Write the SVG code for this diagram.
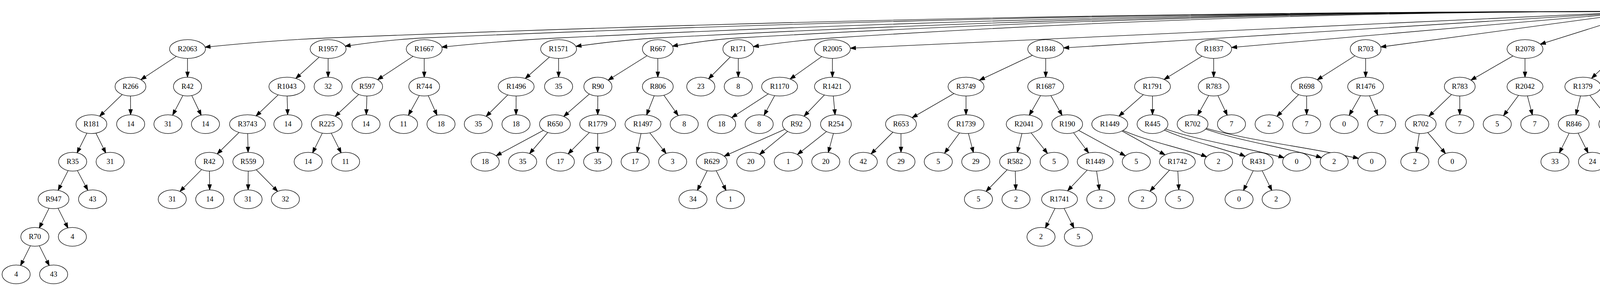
<svg xmlns="http://www.w3.org/2000/svg" width="7321" height="731" viewBox="0 0 7321 731">
<style>
.edges path{fill:none;stroke:#000;stroke-width:1.33}
.ah{fill:#000;stroke:#000;stroke-width:1.33}
.node ellipse{fill:#fff;stroke:#000;stroke-width:1.33}
.node text{font-family:"Liberation Serif","Times New Roman",serif;font-size:18.67px;text-anchor:middle;fill:#000}
</style>
<defs>
<marker id="m24" markerUnits="userSpaceOnUse" markerWidth="14" markerHeight="10" refX="37.33" refY="4.67" orient="auto" overflow="visible"><path class="ah" d="M0,0L13.33,4.67L0,9.33z"/></marker>
<marker id="m25" markerUnits="userSpaceOnUse" markerWidth="14" markerHeight="10" refX="38.33" refY="4.67" orient="auto" overflow="visible"><path class="ah" d="M0,0L13.33,4.67L0,9.33z"/></marker>
<marker id="m26" markerUnits="userSpaceOnUse" markerWidth="14" markerHeight="10" refX="39.33" refY="4.67" orient="auto" overflow="visible"><path class="ah" d="M0,0L13.33,4.67L0,9.33z"/></marker>
<marker id="m27" markerUnits="userSpaceOnUse" markerWidth="14" markerHeight="10" refX="40.33" refY="4.67" orient="auto" overflow="visible"><path class="ah" d="M0,0L13.33,4.67L0,9.33z"/></marker>
<marker id="m28" markerUnits="userSpaceOnUse" markerWidth="14" markerHeight="10" refX="41.33" refY="4.67" orient="auto" overflow="visible"><path class="ah" d="M0,0L13.33,4.67L0,9.33z"/></marker>
<marker id="m29" markerUnits="userSpaceOnUse" markerWidth="14" markerHeight="10" refX="42.33" refY="4.67" orient="auto" overflow="visible"><path class="ah" d="M0,0L13.33,4.67L0,9.33z"/></marker>
<marker id="m30" markerUnits="userSpaceOnUse" markerWidth="14" markerHeight="10" refX="43.33" refY="4.67" orient="auto" overflow="visible"><path class="ah" d="M0,0L13.33,4.67L0,9.33z"/></marker>
<marker id="m31" markerUnits="userSpaceOnUse" markerWidth="14" markerHeight="10" refX="44.33" refY="4.67" orient="auto" overflow="visible"><path class="ah" d="M0,0L13.33,4.67L0,9.33z"/></marker>
<marker id="m32" markerUnits="userSpaceOnUse" markerWidth="14" markerHeight="10" refX="45.33" refY="4.67" orient="auto" overflow="visible"><path class="ah" d="M0,0L13.33,4.67L0,9.33z"/></marker>
<marker id="m33" markerUnits="userSpaceOnUse" markerWidth="14" markerHeight="10" refX="46.33" refY="4.67" orient="auto" overflow="visible"><path class="ah" d="M0,0L13.33,4.67L0,9.33z"/></marker>
<marker id="m34" markerUnits="userSpaceOnUse" markerWidth="14" markerHeight="10" refX="47.33" refY="4.67" orient="auto" overflow="visible"><path class="ah" d="M0,0L13.33,4.67L0,9.33z"/></marker>
<marker id="m35" markerUnits="userSpaceOnUse" markerWidth="14" markerHeight="10" refX="48.33" refY="4.67" orient="auto" overflow="visible"><path class="ah" d="M0,0L13.33,4.67L0,9.33z"/></marker>
<marker id="m36" markerUnits="userSpaceOnUse" markerWidth="14" markerHeight="10" refX="49.33" refY="4.67" orient="auto" overflow="visible"><path class="ah" d="M0,0L13.33,4.67L0,9.33z"/></marker>
<marker id="m38" markerUnits="userSpaceOnUse" markerWidth="14" markerHeight="10" refX="51.33" refY="4.67" orient="auto" overflow="visible"><path class="ah" d="M0,0L13.33,4.67L0,9.33z"/></marker>
<marker id="m39" markerUnits="userSpaceOnUse" markerWidth="14" markerHeight="10" refX="52.33" refY="4.67" orient="auto" overflow="visible"><path class="ah" d="M0,0L13.33,4.67L0,9.33z"/></marker>
<marker id="m41" markerUnits="userSpaceOnUse" markerWidth="14" markerHeight="10" refX="54.33" refY="4.67" orient="auto" overflow="visible"><path class="ah" d="M0,0L13.33,4.67L0,9.33z"/></marker>
<marker id="m43" markerUnits="userSpaceOnUse" markerWidth="14" markerHeight="10" refX="56.33" refY="4.67" orient="auto" overflow="visible"><path class="ah" d="M0,0L13.33,4.67L0,9.33z"/></marker>
<marker id="m44" markerUnits="userSpaceOnUse" markerWidth="14" markerHeight="10" refX="57.33" refY="4.67" orient="auto" overflow="visible"><path class="ah" d="M0,0L13.33,4.67L0,9.33z"/></marker>
<marker id="m45" markerUnits="userSpaceOnUse" markerWidth="14" markerHeight="10" refX="58.33" refY="4.67" orient="auto" overflow="visible"><path class="ah" d="M0,0L13.33,4.67L0,9.33z"/></marker>
<marker id="m46" markerUnits="userSpaceOnUse" markerWidth="14" markerHeight="10" refX="59.33" refY="4.67" orient="auto" overflow="visible"><path class="ah" d="M0,0L13.33,4.67L0,9.33z"/></marker>
</defs>
<rect width="7321" height="731" fill="#fff"/>
<g id="edges" class="edges">
<path d="M4210,29.3Q2525,29.3 840,97C720,101.8 600,112.4 480,125.3" marker-end="url(#m45)"/>
<path d="M4210,29.3Q2648,29.3 1086,97C1004,100.6 922,111.7 840,125.3" marker-end="url(#m44)"/>
<path d="M4210,29.3Q2820,29.3 1430,97C1315.3,102.6 1200.7,112.8 1086,125.3" marker-end="url(#m45)"/>
<path d="M4210,29.3Q2947,29.3 1684,97C1599.3,101.5 1514.7,112.2 1430,125.3" marker-end="url(#m45)"/>
<path d="M4210,29.3Q3050,29.3 1890,97C1821.3,101 1752.7,111.9 1684,125.3" marker-end="url(#m38)"/>
<path d="M4210,29.3Q3170.5,29.3 2131,97C2050.7,102.2 1970.3,112.6 1890,125.3" marker-end="url(#m39)"/>
<path d="M4210,29.3L2131,125.3" marker-end="url(#m46)"/>
<path d="M4210,29.3L2677,125.3" marker-end="url(#m46)"/>
<path d="M4210,29.3L3107,125.3" marker-end="url(#m46)"/>
<path d="M4210,29.3L3496,125.3" marker-end="url(#m39)"/>
<path d="M4210,29.3L3904,125.3" marker-end="url(#m41)"/>
<path d="M4210,29.3L4153.5,125.3" marker-end="url(#m27)"/>
<path d="M4210,29.3L4269.5,125.3" marker-end="url(#m27)"/>
<path d="M4210,29.3L4375.5,125.3" marker-end="url(#m31)"/>
<path d="M4210,29.3L4613,125.3" marker-end="url(#m43)"/>
<path d="M4210,29.3L4870,125.3" marker-end="url(#m45)"/>
<path d="M4210,29.3L5367,125.3" marker-end="url(#m46)"/>
<path d="M4210,29.3Q4788.5,29.3 5367,97C5440.7,105.6 5514.3,114.5 5588,125.3" marker-end="url(#m39)"/>
<path d="M4210,29.3Q4899,29.3 5588,97C5685.7,106.6 5783.3,115 5881,125.3" marker-end="url(#m45)"/>
<path d="M4210,29.3Q5045.5,29.3 5881,97C5996.7,106.4 6112.3,114.9 6228,125.3" marker-end="url(#m45)"/>
<path d="M4210,29.3Q5219,29.3 6228,97C6308.7,102.4 6389.3,112.7 6470,125.3" marker-end="url(#m45)"/>
<path d="M4210,29.3Q5340,29.3 6470,97C6556.3,102.2 6642.7,112.6 6729,125.3" marker-end="url(#m45)"/>
<path d="M4210,29.3Q5469.5,29.3 6729,97C6813.7,101.6 6898.3,112.3 6983,125.3" marker-end="url(#m45)"/>
<path d="M4210,29.3Q5596.5,29.3 6983,97C7050,100.3 7117,111.55 7184,125.3" marker-end="url(#m38)"/>
<path d="M480,125.3L334,221.3" marker-end="url(#m32)"/>
<path d="M480,125.3L480,221.3" marker-end="url(#m24)"/>
<path d="M840,125.3L734.4,221.3" marker-end="url(#m31)"/>
<path d="M840,125.3L840,221.3" marker-end="url(#m24)"/>
<path d="M1086,125.3L940,221.3" marker-end="url(#m32)"/>
<path d="M1086,125.3L1086,221.3" marker-end="url(#m24)"/>
<path d="M1430,125.3L1321.4,221.3" marker-end="url(#m31)"/>
<path d="M1430,125.3L1430,221.3" marker-end="url(#m24)"/>
<path d="M1684,125.3L1530.6,221.3" marker-end="url(#m31)"/>
<path d="M1684,125.3L1684,221.3" marker-end="url(#m24)"/>
<path d="M1890,125.3L1794,221.3" marker-end="url(#m28)"/>
<path d="M1890,125.3L1890,221.3" marker-end="url(#m24)"/>
<path d="M2131,125.3L1995.7,221.3" marker-end="url(#m33)"/>
<path d="M2131,125.3L2131,221.3" marker-end="url(#m24)"/>
<path d="M2677,125.3L2473,221.3" marker-end="url(#m38)"/>
<path d="M2677,125.3L2677,221.3" marker-end="url(#m24)"/>
<path d="M3107,125.3L2950.4,221.3" marker-end="url(#m35)"/>
<path d="M3107,125.3L3107,221.3" marker-end="url(#m24)"/>
<path d="M3496,125.3L3345,221.3" marker-end="url(#m32)"/>
<path d="M3496,125.3L3496,221.3" marker-end="url(#m24)"/>
<path d="M3904,125.3L3737,221.3" marker-end="url(#m33)"/>
<path d="M3904,125.3L3904,221.3" marker-end="url(#m24)"/>
<path d="M4153.5,125.3L4052,221.3" marker-end="url(#m31)"/>
<path d="M4153.5,125.3L4158,221.3" marker-end="url(#m24)"/>
<path d="M4269.5,125.3L4269.5,221.3" marker-end="url(#m24)"/>
<path d="M4269.5,125.3L4417,221.3" marker-end="url(#m34)"/>
<path d="M4613,125.3L4613,221.3" marker-end="url(#m24)"/>
<path d="M4613,125.3L4713,221.3" marker-end="url(#m28)"/>
<path d="M4870,125.3L4870,221.3" marker-end="url(#m24)"/>
<path d="M4870,125.3L5031,221.3" marker-end="url(#m33)"/>
<path d="M5367,125.3L5367,221.3" marker-end="url(#m24)"/>
<path d="M5367,125.3L5491,221.3" marker-end="url(#m30)"/>
<path d="M5588,125.3L5588,221.3" marker-end="url(#m24)"/>
<path d="M5588,125.3L5684,221.3" marker-end="url(#m28)"/>
<path d="M5881,125.3L5881,221.3" marker-end="url(#m24)"/>
<path d="M5881,125.3L6025.4,221.3" marker-end="url(#m34)"/>
<path d="M6228,125.3L6228,221.3" marker-end="url(#m24)"/>
<path d="M6228,125.3L6327,221.3" marker-end="url(#m28)"/>
<path d="M6470,125.3L6470,221.3" marker-end="url(#m24)"/>
<path d="M6470,125.3L6621,221.3" marker-end="url(#m35)"/>
<path d="M6729,125.3L6729,221.3" marker-end="url(#m24)"/>
<path d="M6729,125.3L6830.7,221.3" marker-end="url(#m29)"/>
<path d="M6983,125.3L6983,221.3" marker-end="url(#m24)"/>
<path d="M6983,125.3L7087.7,221.3" marker-end="url(#m29)"/>
<path d="M7184,125.3L7183.7,221.3" marker-end="url(#m24)"/>
<path d="M7184,125.3L7279.7,221.3" marker-end="url(#m28)"/>
<path d="M334,221.3L234,317.3" marker-end="url(#m29)"/>
<path d="M334,221.3L334.5,317.3" marker-end="url(#m24)"/>
<path d="M480,221.3L430,317.3" marker-end="url(#m26)"/>
<path d="M480,221.3L526,317.3" marker-end="url(#m25)"/>
<path d="M734.4,221.3L633.6,317.3" marker-end="url(#m30)"/>
<path d="M734.4,221.3L737,317.3" marker-end="url(#m24)"/>
<path d="M940,221.3L836.5,317.3" marker-end="url(#m29)"/>
<path d="M940,221.3L937,317.3" marker-end="url(#m24)"/>
<path d="M1086,221.3L1033,317.3" marker-end="url(#m26)"/>
<path d="M1086,221.3L1129,317.3" marker-end="url(#m25)"/>
<path d="M1321.4,221.3L1224.5,317.3" marker-end="url(#m28)"/>
<path d="M1321.4,221.3L1321,317.3" marker-end="url(#m24)"/>
<path d="M1530.6,221.3L1420.6,317.3" marker-end="url(#m30)"/>
<path d="M1530.6,221.3L1530,317.3" marker-end="url(#m24)"/>
<path d="M1684,221.3L1646,317.3" marker-end="url(#m25)"/>
<path d="M1684,221.3L1751.6,317.3" marker-end="url(#m27)"/>
<path d="M1995.7,221.3L1847.4,317.3" marker-end="url(#m31)"/>
<path d="M1995.7,221.3L1943.5,317.3" marker-end="url(#m26)"/>
<path d="M2131,221.3L2039,317.3" marker-end="url(#m28)"/>
<path d="M2131,221.3L2140,317.3" marker-end="url(#m24)"/>
<path d="M2473,221.3L2306.5,317.3" marker-end="url(#m33)"/>
<path d="M2473,221.3L2473,317.3" marker-end="url(#m24)"/>
<path d="M2677,221.3L2622,317.3" marker-end="url(#m26)"/>
<path d="M2677,221.3L2732,317.3" marker-end="url(#m26)"/>
<path d="M2950.4,221.3L2841,317.3" marker-end="url(#m31)"/>
<path d="M2950.4,221.3L2950.4,317.3" marker-end="url(#m24)"/>
<path d="M3107,221.3L3053,317.3" marker-end="url(#m26)"/>
<path d="M3107,221.3L3152.6,317.3" marker-end="url(#m25)"/>
<path d="M3345,221.3L3249,317.3" marker-end="url(#m28)"/>
<path d="M3345,221.3L3345,317.3" marker-end="url(#m24)"/>
<path d="M3496,221.3L3441,317.3" marker-end="url(#m26)"/>
<path d="M3496,221.3L3537,317.3" marker-end="url(#m25)"/>
<path d="M3737,221.3L3637,317.3" marker-end="url(#m29)"/>
<path d="M3737,221.3L3737,317.3" marker-end="url(#m24)"/>
<path d="M3904,221.3L3833,317.3" marker-end="url(#m27)"/>
<path d="M3904,221.3L3929,317.3" marker-end="url(#m24)"/>
<path d="M4052,221.3L4028.6,317.3" marker-end="url(#m24)"/>
<path d="M4052,221.3L4129,317.3" marker-end="url(#m27)"/>
<path d="M4269.5,221.3L4225,317.3" marker-end="url(#m25)"/>
<path d="M4269.5,221.3L4321,317.3" marker-end="url(#m26)"/>
<path d="M4417,221.3L4417,317.3" marker-end="url(#m24)"/>
<path d="M4417,221.3L4513,317.3" marker-end="url(#m28)"/>
<path d="M4613,221.3L4613,317.3" marker-end="url(#m24)"/>
<path d="M4613,221.3L4713,317.3" marker-end="url(#m28)"/>
<path d="M4870,221.3L4817.6,317.3" marker-end="url(#m26)"/>
<path d="M4870,221.3L4927,317.3" marker-end="url(#m26)"/>
<path d="M5031,221.3L5030.5,317.3" marker-end="url(#m24)"/>
<path d="M5031,221.3L5133,317.3" marker-end="url(#m29)"/>
<path d="M5367,221.3L5340.8,317.3" marker-end="url(#m24)"/>
<path d="M5367,221.3L5440.5,317.3" marker-end="url(#m27)"/>
<path d="M5491,221.3L5541,317.3" marker-end="url(#m26)"/>
<path d="M5491,221.3L5637,317.3" marker-end="url(#m31)"/>
<path d="M5881,221.3L5806.4,317.3" marker-end="url(#m27)"/>
<path d="M5881,221.3L5916,317.3" marker-end="url(#m25)"/>
<path d="M6025.4,221.3L6025.4,317.3" marker-end="url(#m24)"/>
<path d="M6025.4,221.3L6128,317.3" marker-end="url(#m29)"/>
<path d="M6228,221.3L6228,317.3" marker-end="url(#m24)"/>
<path d="M6228,221.3L6324,317.3" marker-end="url(#m28)"/>
<path d="M6470,221.3L6420,317.3" marker-end="url(#m26)"/>
<path d="M6470,221.3L6516,317.3" marker-end="url(#m25)"/>
<path d="M6621,221.3L6621,317.3" marker-end="url(#m24)"/>
<path d="M6621,221.3L6731,317.3" marker-end="url(#m30)"/>
<path d="M6830.7,221.3L6830.5,317.3" marker-end="url(#m24)"/>
<path d="M6830.7,221.3L6926.5,317.3" marker-end="url(#m28)"/>
<path d="M6983,221.3L7026.5,317.3" marker-end="url(#m25)"/>
<path d="M6983,221.3L7126,317.3" marker-end="url(#m31)"/>
<path d="M234,317.3L186,413.3" marker-end="url(#m25)"/>
<path d="M234,317.3L282,413.3" marker-end="url(#m25)"/>
<path d="M633.6,317.3L536,413.3" marker-end="url(#m28)"/>
<path d="M633.6,317.3L635.6,413.3" marker-end="url(#m24)"/>
<path d="M836.5,317.3L789,413.3" marker-end="url(#m25)"/>
<path d="M836.5,317.3L884.7,413.3" marker-end="url(#m25)"/>
<path d="M1420.6,317.3L1242,413.3" marker-end="url(#m32)"/>
<path d="M1420.6,317.3L1338,413.3" marker-end="url(#m27)"/>
<path d="M1530,317.3L1434.5,413.3" marker-end="url(#m28)"/>
<path d="M1530,317.3L1530,413.3" marker-end="url(#m24)"/>
<path d="M1646,317.3L1626,413.3" marker-end="url(#m24)"/>
<path d="M1646,317.3L1722,413.3" marker-end="url(#m27)"/>
<path d="M2039,317.3L1822,413.3" marker-end="url(#m35)"/>
<path d="M2039,317.3L1922,413.3" marker-end="url(#m29)"/>
<path d="M2140,317.3L2018,413.3" marker-end="url(#m30)"/>
<path d="M2140,317.3L2114,413.3" marker-end="url(#m24)"/>
<path d="M2306.5,317.3L2210,413.3" marker-end="url(#m28)"/>
<path d="M2306.5,317.3L2306.5,413.3" marker-end="url(#m24)"/>
<path d="M2473,317.3L2402,413.3" marker-end="url(#m27)"/>
<path d="M2473,317.3L2498,413.3" marker-end="url(#m24)"/>
<path d="M2622,317.3L2598.5,413.3" marker-end="url(#m24)"/>
<path d="M2622,317.3L2698.5,413.3" marker-end="url(#m27)"/>
<path d="M2732,317.3L2803.7,413.3" marker-end="url(#m28)"/>
<path d="M2732,317.3L2909,413.3" marker-end="url(#m32)"/>
<path d="M2841,317.3L3014,413.3" marker-end="url(#m36)"/>
<path d="M2841,317.3C2924.6,362.3 3022,373.3 3119.5,413.3" marker-end="url(#m33)"/>
<path d="M2950.4,317.3C3031.2,362.3 3125.5,373.3 3219.8,413.3" marker-end="url(#m35)"/>
<path d="M2950.4,317.3C3061.1,362.3 3190.3,373.3 3319.5,413.3" marker-end="url(#m34)"/>
<path d="M3053,317.3C3161.8,362.3 3288.6,373.3 3415.5,413.3" marker-end="url(#m34)"/>
<path d="M3053,317.3C3190.6,362.3 3351.1,373.3 3511.6,413.3" marker-end="url(#m35)"/>
<path d="M3637,317.3L3622,413.3" marker-end="url(#m24)"/>
<path d="M3637,317.3L3718,413.3" marker-end="url(#m27)"/>
<path d="M4028.6,317.3L3980.7,413.3" marker-end="url(#m25)"/>
<path d="M4028.6,317.3L4076.8,413.3" marker-end="url(#m25)"/>
<path d="M4613,317.3C4514.9,362.3 4400.5,373.3 4286,413.3" marker-end="url(#m34)"/>
<path d="M4613,317.3L4382,413.3" marker-end="url(#m33)"/>
<path d="M4817.6,317.3C4715.7,362.3 4596.9,373.3 4478,413.3" marker-end="url(#m34)"/>
<path d="M4817.6,317.3L4584,413.3" marker-end="url(#m39)"/>
<path d="M4927,317.3L4693.5,413.3" marker-end="url(#m35)"/>
<path d="M4927,317.3L4793,413.3" marker-end="url(#m30)"/>
<path d="M5030.5,317.3L4888.5,413.3" marker-end="url(#m30)"/>
<path d="M5030.5,317.3L4985,413.3" marker-end="url(#m25)"/>
<path d="M5133,317.3L5080.6,413.3" marker-end="url(#m26)"/>
<path d="M5133,317.3L5177,413.3" marker-end="url(#m25)"/>
<path d="M5340.8,317.3L5282.5,413.3" marker-end="url(#m27)"/>
<path d="M5340.8,317.3L5398.5,413.3" marker-end="url(#m27)"/>
<path d="M5440.5,317.3L5514.5,413.3" marker-end="url(#m28)"/>
<path d="M5440.5,317.3L5620.5,413.3" marker-end="url(#m32)"/>
<path d="M5806.4,317.3L5725,413.3" marker-end="url(#m29)"/>
<path d="M5806.4,317.3L5830.5,413.3" marker-end="url(#m24)"/>
<path d="M5916,317.3L5926,413.3" marker-end="url(#m24)"/>
<path d="M5916,317.3L6022,413.3" marker-end="url(#m29)"/>
<path d="M6025.4,317.3L6122,413.3" marker-end="url(#m29)"/>
<path d="M6025.4,317.3L6221.7,413.3" marker-end="url(#m32)"/>
<path d="M6128,317.3L6318,413.3" marker-end="url(#m32)"/>
<path d="M6128,317.3C6213.8,362.3 6313.9,373.3 6414,413.3" marker-end="url(#m33)"/>
<path d="M6621,317.3L6522,413.3" marker-end="url(#m29)"/>
<path d="M6621,317.3L6621.5,413.3" marker-end="url(#m24)"/>
<path d="M6731,317.3L6725,413.3" marker-end="url(#m24)"/>
<path d="M6731,317.3L6821,413.3" marker-end="url(#m28)"/>
<path d="M7026.5,317.3L6925.2,413.3" marker-end="url(#m29)"/>
<path d="M7026.5,317.3L7030.4,413.3" marker-end="url(#m24)"/>
<path d="M186,413.3L137,509.3" marker-end="url(#m26)"/>
<path d="M186,413.3L237,509.3" marker-end="url(#m26)"/>
<path d="M536,413.3L441,509.3" marker-end="url(#m28)"/>
<path d="M536,413.3L537,509.3" marker-end="url(#m24)"/>
<path d="M635.6,413.3L635,509.3" marker-end="url(#m24)"/>
<path d="M635.6,413.3L730.5,509.3" marker-end="url(#m28)"/>
<path d="M1822,413.3L1774,509.3" marker-end="url(#m25)"/>
<path d="M1822,413.3L1870,509.3" marker-end="url(#m25)"/>
<path d="M2598.5,413.3L2504.8,509.3" marker-end="url(#m28)"/>
<path d="M2598.5,413.3L2601,509.3" marker-end="url(#m24)"/>
<path d="M2803.7,413.3L2712.4,509.3" marker-end="url(#m30)"/>
<path d="M2803.7,413.3L2818,509.3" marker-end="url(#m24)"/>
<path d="M3014,413.3L2925,509.3" marker-end="url(#m28)"/>
<path d="M3014,413.3L3019,509.3" marker-end="url(#m24)"/>
<path d="M3219.8,413.3L3172,509.3" marker-end="url(#m25)"/>
<path d="M3219.8,413.3L3267,509.3" marker-end="url(#m25)"/>
<path d="M4584,413.3L4488,509.3" marker-end="url(#m29)"/>
<path d="M4584,413.3L4587.4,509.3" marker-end="url(#m24)"/>
<path d="M4693.5,413.3L4690,509.3" marker-end="url(#m24)"/>
<path d="M4693.5,413.3L4786,509.3" marker-end="url(#m28)"/>
<path d="M5282.5,413.3L5139.6,509.3" marker-end="url(#m30)"/>
<path d="M5282.5,413.3L5235.6,509.3" marker-end="url(#m25)"/>
<path d="M5398.5,413.3L5331,509.3" marker-end="url(#m27)"/>
<path d="M5398.5,413.3L5427.4,509.3" marker-end="url(#m25)"/>
<path d="M5514.5,413.3L5523,509.3" marker-end="url(#m24)"/>
<path d="M5514.5,413.3L5619.7,509.3" marker-end="url(#m29)"/>
<path d="M5725,413.3L5719.8,509.3" marker-end="url(#m24)"/>
<path d="M5725,413.3L5815.8,509.3" marker-end="url(#m28)"/>
<path d="M6122,413.3L6073.6,509.3" marker-end="url(#m25)"/>
<path d="M6122,413.3L6170.3,509.3" marker-end="url(#m25)"/>
<path d="M6522,413.3L6474.3,509.3" marker-end="url(#m25)"/>
<path d="M6522,413.3L6570,509.3" marker-end="url(#m25)"/>
<path d="M6925.2,413.3L6809,509.3" marker-end="url(#m32)"/>
<path d="M6925.2,413.3L6925.2,509.3" marker-end="url(#m24)"/>
<path d="M7030.4,413.3L7030.4,509.3" marker-end="url(#m24)"/>
<path d="M7030.4,413.3L7126,509.3" marker-end="url(#m28)"/>
<path d="M137,509.3L89.3,605.3" marker-end="url(#m25)"/>
<path d="M137,509.3L185.3,605.3" marker-end="url(#m25)"/>
<path d="M2712.4,509.3L2665,605.3" marker-end="url(#m25)"/>
<path d="M2712.4,509.3L2760.6,605.3" marker-end="url(#m25)"/>
<path d="M4488,509.3L4440,605.3" marker-end="url(#m25)"/>
<path d="M4488,509.3L4536,605.3" marker-end="url(#m25)"/>
<path d="M6809,509.3L6718.8,605.3" marker-end="url(#m28)"/>
<path d="M6809,509.3L6814.5,605.3" marker-end="url(#m24)"/>
<path d="M6925.2,509.3L6919.3,605.3" marker-end="url(#m24)"/>
<path d="M6925.2,509.3L7015.4,605.3" marker-end="url(#m28)"/>
<path d="M89.3,605.3L41.3,701.3" marker-end="url(#m25)"/>
<path d="M89.3,605.3L137.3,701.3" marker-end="url(#m25)"/>
</g>
<g id="nodes">
<g id="n0" class="node"><ellipse cx="4210" cy="29.3" rx="39.5" ry="24"/><text x="4210" y="35.3">H165</text></g>
<g id="n1" class="node"><ellipse cx="480" cy="125.3" rx="46" ry="24"/><text x="480" y="131.3">R2063</text></g>
<g id="n2" class="node"><ellipse cx="840" cy="125.3" rx="46" ry="24"/><text x="840" y="131.3">R1957</text></g>
<g id="n3" class="node"><ellipse cx="1086" cy="125.3" rx="46" ry="24"/><text x="1086" y="131.3">R1667</text></g>
<g id="n4" class="node"><ellipse cx="1430" cy="125.3" rx="46" ry="24"/><text x="1430" y="131.3">R1571</text></g>
<g id="n5" class="node"><ellipse cx="1684" cy="125.3" rx="39.5" ry="24"/><text x="1684" y="131.3">R667</text></g>
<g id="n6" class="node"><ellipse cx="1890" cy="125.3" rx="39.5" ry="24"/><text x="1890" y="131.3">R171</text></g>
<g id="n7" class="node"><ellipse cx="2131" cy="125.3" rx="46" ry="24"/><text x="2131" y="131.3">R2005</text></g>
<g id="n8" class="node"><ellipse cx="2677" cy="125.3" rx="46" ry="24"/><text x="2677" y="131.3">R1848</text></g>
<g id="n9" class="node"><ellipse cx="3107" cy="125.3" rx="46" ry="24"/><text x="3107" y="131.3">R1837</text></g>
<g id="n10" class="node"><ellipse cx="3496" cy="125.3" rx="39.5" ry="24"/><text x="3496" y="131.3">R703</text></g>
<g id="n11" class="node"><ellipse cx="3904" cy="125.3" rx="46" ry="24"/><text x="3904" y="131.3">R2078</text></g>
<g id="n12" class="node"><ellipse cx="4153.5" cy="125.3" rx="46" ry="24"/><text x="4153.5" y="131.3">R2096</text></g>
<g id="n13" class="node"><ellipse cx="4269.5" cy="125.3" rx="46" ry="24"/><text x="4269.5" y="131.3">R2097</text></g>
<g id="n14" class="node"><ellipse cx="4375.5" cy="125.3" rx="36" ry="24"/><text x="4375.5" y="131.3">16</text></g>
<g id="n15" class="node"><ellipse cx="4613" cy="125.3" rx="46" ry="24"/><text x="4613" y="131.3">R1774</text></g>
<g id="n16" class="node"><ellipse cx="4870" cy="125.3" rx="46" ry="24"/><text x="4870" y="131.3">R1483</text></g>
<g id="n17" class="node"><ellipse cx="5367" cy="125.3" rx="46" ry="24"/><text x="5367" y="131.3">R1198</text></g>
<g id="n18" class="node"><ellipse cx="5588" cy="125.3" rx="39.5" ry="24"/><text x="5588" y="131.3">R177</text></g>
<g id="n19" class="node"><ellipse cx="5881" cy="125.3" rx="46" ry="24"/><text x="5881" y="131.3">R1304</text></g>
<g id="n20" class="node"><ellipse cx="6228" cy="125.3" rx="46" ry="24"/><text x="6228" y="131.3">R2098</text></g>
<g id="n21" class="node"><ellipse cx="6470" cy="125.3" rx="46" ry="24"/><text x="6470" y="131.3">R2099</text></g>
<g id="n22" class="node"><ellipse cx="6729" cy="125.3" rx="46" ry="24"/><text x="6729" y="131.3">R1336</text></g>
<g id="n23" class="node"><ellipse cx="6983" cy="125.3" rx="46" ry="24"/><text x="6983" y="131.3">R1956</text></g>
<g id="n24" class="node"><ellipse cx="7184" cy="125.3" rx="39.5" ry="24"/><text x="7184" y="131.3">R139</text></g>
<g id="n25" class="node"><ellipse cx="334" cy="221.3" rx="39.5" ry="24"/><text x="334" y="227.3">R266</text></g>
<g id="n26" class="node"><ellipse cx="480" cy="221.3" rx="36" ry="24"/><text x="480" y="227.3">R42</text></g>
<g id="n27" class="node"><ellipse cx="734.4" cy="221.3" rx="46" ry="24"/><text x="734.4" y="227.3">R1043</text></g>
<g id="n28" class="node"><ellipse cx="840" cy="221.3" rx="36" ry="24"/><text x="840" y="227.3">32</text></g>
<g id="n29" class="node"><ellipse cx="940" cy="221.3" rx="39.5" ry="24"/><text x="940" y="227.3">R597</text></g>
<g id="n30" class="node"><ellipse cx="1086" cy="221.3" rx="39.5" ry="24"/><text x="1086" y="227.3">R744</text></g>
<g id="n31" class="node"><ellipse cx="1321.4" cy="221.3" rx="46" ry="24"/><text x="1321.4" y="227.3">R1496</text></g>
<g id="n32" class="node"><ellipse cx="1430" cy="221.3" rx="36" ry="24"/><text x="1430" y="227.3">35</text></g>
<g id="n33" class="node"><ellipse cx="1530.6" cy="221.3" rx="36" ry="24"/><text x="1530.6" y="227.3">R90</text></g>
<g id="n34" class="node"><ellipse cx="1684" cy="221.3" rx="39.5" ry="24"/><text x="1684" y="227.3">R806</text></g>
<g id="n35" class="node"><ellipse cx="1794" cy="221.3" rx="36" ry="24"/><text x="1794" y="227.3">23</text></g>
<g id="n36" class="node"><ellipse cx="1890" cy="221.3" rx="36" ry="24"/><text x="1890" y="227.3">8</text></g>
<g id="n37" class="node"><ellipse cx="1995.7" cy="221.3" rx="46" ry="24"/><text x="1995.7" y="227.3">R1170</text></g>
<g id="n38" class="node"><ellipse cx="2131" cy="221.3" rx="46" ry="24"/><text x="2131" y="227.3">R1421</text></g>
<g id="n39" class="node"><ellipse cx="2473" cy="221.3" rx="46" ry="24"/><text x="2473" y="227.3">R3749</text></g>
<g id="n40" class="node"><ellipse cx="2677" cy="221.3" rx="46" ry="24"/><text x="2677" y="227.3">R1687</text></g>
<g id="n41" class="node"><ellipse cx="2950.4" cy="221.3" rx="46" ry="24"/><text x="2950.4" y="227.3">R1791</text></g>
<g id="n42" class="node"><ellipse cx="3107" cy="221.3" rx="39.5" ry="24"/><text x="3107" y="227.3">R783</text></g>
<g id="n43" class="node"><ellipse cx="3345" cy="221.3" rx="39.5" ry="24"/><text x="3345" y="227.3">R698</text></g>
<g id="n44" class="node"><ellipse cx="3496" cy="221.3" rx="46" ry="24"/><text x="3496" y="227.3">R1476</text></g>
<g id="n45" class="node"><ellipse cx="3737" cy="221.3" rx="39.5" ry="24"/><text x="3737" y="227.3">R783</text></g>
<g id="n46" class="node"><ellipse cx="3904" cy="221.3" rx="46" ry="24"/><text x="3904" y="227.3">R2042</text></g>
<g id="n47" class="node"><ellipse cx="4052" cy="221.3" rx="46" ry="24"/><text x="4052" y="227.3">R1379</text></g>
<g id="n48" class="node"><ellipse cx="4158" cy="221.3" rx="36" ry="24"/><text x="4158" y="227.3">24</text></g>
<g id="n49" class="node"><ellipse cx="4269.5" cy="221.3" rx="46" ry="24"/><text x="4269.5" y="227.3">R1400</text></g>
<g id="n50" class="node"><ellipse cx="4417" cy="221.3" rx="46" ry="24"/><text x="4417" y="227.3">R3736</text></g>
<g id="n51" class="node"><ellipse cx="4613" cy="221.3" rx="39.5" ry="24"/><text x="4613" y="227.3">R642</text></g>
<g id="n52" class="node"><ellipse cx="4713" cy="221.3" rx="36" ry="24"/><text x="4713" y="227.3">6</text></g>
<g id="n53" class="node"><ellipse cx="4870" cy="221.3" rx="46" ry="24"/><text x="4870" y="227.3">R1664</text></g>
<g id="n54" class="node"><ellipse cx="5031" cy="221.3" rx="39.5" ry="24"/><text x="5031" y="227.3">R643</text></g>
<g id="n55" class="node"><ellipse cx="5367" cy="221.3" rx="39.5" ry="24"/><text x="5367" y="227.3">R451</text></g>
<g id="n56" class="node"><ellipse cx="5491" cy="221.3" rx="36" ry="24"/><text x="5491" y="227.3">R63</text></g>
<g id="n57" class="node"><ellipse cx="5588" cy="221.3" rx="36" ry="24"/><text x="5588" y="227.3">36</text></g>
<g id="n58" class="node"><ellipse cx="5684" cy="221.3" rx="36" ry="24"/><text x="5684" y="227.3">6</text></g>
<g id="n59" class="node"><ellipse cx="5881" cy="221.3" rx="46" ry="24"/><text x="5881" y="227.3">R1165</text></g>
<g id="n60" class="node"><ellipse cx="6025.4" cy="221.3" rx="46" ry="24"/><text x="6025.4" y="227.3">R1089</text></g>
<g id="n61" class="node"><ellipse cx="6228" cy="221.3" rx="39.5" ry="24"/><text x="6228" y="227.3">R136</text></g>
<g id="n62" class="node"><ellipse cx="6327" cy="221.3" rx="36" ry="24"/><text x="6327" y="227.3">30</text></g>
<g id="n63" class="node"><ellipse cx="6470" cy="221.3" rx="39.5" ry="24"/><text x="6470" y="227.3">R858</text></g>
<g id="n64" class="node"><ellipse cx="6621" cy="221.3" rx="46" ry="24"/><text x="6621" y="227.3">R2056</text></g>
<g id="n65" class="node"><ellipse cx="6729" cy="221.3" rx="36" ry="24"/><text x="6729" y="227.3">39</text></g>
<g id="n66" class="node"><ellipse cx="6830.7" cy="221.3" rx="39.5" ry="24"/><text x="6830.7" y="227.3">R327</text></g>
<g id="n67" class="node"><ellipse cx="6983" cy="221.3" rx="46" ry="24"/><text x="6983" y="227.3">R1868</text></g>
<g id="n68" class="node"><ellipse cx="7087.7" cy="221.3" rx="36" ry="24"/><text x="7087.7" y="227.3">39</text></g>
<g id="n69" class="node"><ellipse cx="7183.7" cy="221.3" rx="36" ry="24"/><text x="7183.7" y="227.3">23</text></g>
<g id="n70" class="node"><ellipse cx="7279.7" cy="221.3" rx="36" ry="24"/><text x="7279.7" y="227.3">39</text></g>
<g id="n71" class="node"><ellipse cx="234" cy="317.3" rx="39.5" ry="24"/><text x="234" y="323.3">R181</text></g>
<g id="n72" class="node"><ellipse cx="334.5" cy="317.3" rx="36" ry="24"/><text x="334.5" y="323.3">14</text></g>
<g id="n73" class="node"><ellipse cx="430" cy="317.3" rx="36" ry="24"/><text x="430" y="323.3">31</text></g>
<g id="n74" class="node"><ellipse cx="526" cy="317.3" rx="36" ry="24"/><text x="526" y="323.3">14</text></g>
<g id="n75" class="node"><ellipse cx="633.6" cy="317.3" rx="46" ry="24"/><text x="633.6" y="323.3">R3743</text></g>
<g id="n76" class="node"><ellipse cx="737" cy="317.3" rx="36" ry="24"/><text x="737" y="323.3">14</text></g>
<g id="n77" class="node"><ellipse cx="836.5" cy="317.3" rx="39.5" ry="24"/><text x="836.5" y="323.3">R225</text></g>
<g id="n78" class="node"><ellipse cx="937" cy="317.3" rx="36" ry="24"/><text x="937" y="323.3">14</text></g>
<g id="n79" class="node"><ellipse cx="1033" cy="317.3" rx="36" ry="24"/><text x="1033" y="323.3">11</text></g>
<g id="n80" class="node"><ellipse cx="1129" cy="317.3" rx="36" ry="24"/><text x="1129" y="323.3">18</text></g>
<g id="n81" class="node"><ellipse cx="1224.5" cy="317.3" rx="36" ry="24"/><text x="1224.5" y="323.3">35</text></g>
<g id="n82" class="node"><ellipse cx="1321" cy="317.3" rx="36" ry="24"/><text x="1321" y="323.3">18</text></g>
<g id="n83" class="node"><ellipse cx="1420.6" cy="317.3" rx="39.5" ry="24"/><text x="1420.6" y="323.3">R650</text></g>
<g id="n84" class="node"><ellipse cx="1530" cy="317.3" rx="46" ry="24"/><text x="1530" y="323.3">R1779</text></g>
<g id="n85" class="node"><ellipse cx="1646" cy="317.3" rx="46" ry="24"/><text x="1646" y="323.3">R1497</text></g>
<g id="n86" class="node"><ellipse cx="1751.6" cy="317.3" rx="36" ry="24"/><text x="1751.6" y="323.3">8</text></g>
<g id="n87" class="node"><ellipse cx="1847.4" cy="317.3" rx="36" ry="24"/><text x="1847.4" y="323.3">18</text></g>
<g id="n88" class="node"><ellipse cx="1943.5" cy="317.3" rx="36" ry="24"/><text x="1943.5" y="323.3">8</text></g>
<g id="n89" class="node"><ellipse cx="2039" cy="317.3" rx="36" ry="24"/><text x="2039" y="323.3">R92</text></g>
<g id="n90" class="node"><ellipse cx="2140" cy="317.3" rx="39.5" ry="24"/><text x="2140" y="323.3">R254</text></g>
<g id="n91" class="node"><ellipse cx="2306.5" cy="317.3" rx="39.5" ry="24"/><text x="2306.5" y="323.3">R653</text></g>
<g id="n92" class="node"><ellipse cx="2473" cy="317.3" rx="46" ry="24"/><text x="2473" y="323.3">R1739</text></g>
<g id="n93" class="node"><ellipse cx="2622" cy="317.3" rx="46" ry="24"/><text x="2622" y="323.3">R2041</text></g>
<g id="n94" class="node"><ellipse cx="2732" cy="317.3" rx="39.5" ry="24"/><text x="2732" y="323.3">R190</text></g>
<g id="n95" class="node"><ellipse cx="2841" cy="317.3" rx="46" ry="24"/><text x="2841" y="323.3">R1449</text></g>
<g id="n96" class="node"><ellipse cx="2950.4" cy="317.3" rx="39.5" ry="24"/><text x="2950.4" y="323.3">R445</text></g>
<g id="n97" class="node"><ellipse cx="3053" cy="317.3" rx="39.5" ry="24"/><text x="3053" y="323.3">R702</text></g>
<g id="n98" class="node"><ellipse cx="3152.6" cy="317.3" rx="36" ry="24"/><text x="3152.6" y="323.3">7</text></g>
<g id="n99" class="node"><ellipse cx="3249" cy="317.3" rx="36" ry="24"/><text x="3249" y="323.3">2</text></g>
<g id="n100" class="node"><ellipse cx="3345" cy="317.3" rx="36" ry="24"/><text x="3345" y="323.3">7</text></g>
<g id="n101" class="node"><ellipse cx="3441" cy="317.3" rx="36" ry="24"/><text x="3441" y="323.3">0</text></g>
<g id="n102" class="node"><ellipse cx="3537" cy="317.3" rx="36" ry="24"/><text x="3537" y="323.3">7</text></g>
<g id="n103" class="node"><ellipse cx="3637" cy="317.3" rx="39.5" ry="24"/><text x="3637" y="323.3">R702</text></g>
<g id="n104" class="node"><ellipse cx="3737" cy="317.3" rx="36" ry="24"/><text x="3737" y="323.3">7</text></g>
<g id="n105" class="node"><ellipse cx="3833" cy="317.3" rx="36" ry="24"/><text x="3833" y="323.3">5</text></g>
<g id="n106" class="node"><ellipse cx="3929" cy="317.3" rx="36" ry="24"/><text x="3929" y="323.3">7</text></g>
<g id="n107" class="node"><ellipse cx="4028.6" cy="317.3" rx="39.5" ry="24"/><text x="4028.6" y="323.3">R846</text></g>
<g id="n108" class="node"><ellipse cx="4129" cy="317.3" rx="36" ry="24"/><text x="4129" y="323.3">33</text></g>
<g id="n109" class="node"><ellipse cx="4225" cy="317.3" rx="36" ry="24"/><text x="4225" y="323.3">29</text></g>
<g id="n110" class="node"><ellipse cx="4321" cy="317.3" rx="36" ry="24"/><text x="4321" y="323.3">24</text></g>
<g id="n111" class="node"><ellipse cx="4417" cy="317.3" rx="36" ry="24"/><text x="4417" y="323.3">19</text></g>
<g id="n112" class="node"><ellipse cx="4513" cy="317.3" rx="36" ry="24"/><text x="4513" y="323.3">10</text></g>
<g id="n113" class="node"><ellipse cx="4613" cy="317.3" rx="39.5" ry="24"/><text x="4613" y="323.3">R421</text></g>
<g id="n114" class="node"><ellipse cx="4713" cy="317.3" rx="36" ry="24"/><text x="4713" y="323.3">16</text></g>
<g id="n115" class="node"><ellipse cx="4817.6" cy="317.3" rx="46" ry="24"/><text x="4817.6" y="323.3">R1302</text></g>
<g id="n116" class="node"><ellipse cx="4927" cy="317.3" rx="39.5" ry="24"/><text x="4927" y="323.3">R707</text></g>
<g id="n117" class="node"><ellipse cx="5030.5" cy="317.3" rx="39.5" ry="24"/><text x="5030.5" y="323.3">R505</text></g>
<g id="n118" class="node"><ellipse cx="5133" cy="317.3" rx="39.5" ry="24"/><text x="5133" y="323.3">R505</text></g>
<g id="n119" class="node"><ellipse cx="5340.8" cy="317.3" rx="36" ry="24"/><text x="5340.8" y="323.3">R99</text></g>
<g id="n120" class="node"><ellipse cx="5440.5" cy="317.3" rx="39.5" ry="24"/><text x="5440.5" y="323.3">R396</text></g>
<g id="n121" class="node"><ellipse cx="5541" cy="317.3" rx="36" ry="24"/><text x="5541" y="323.3">36</text></g>
<g id="n122" class="node"><ellipse cx="5637" cy="317.3" rx="36" ry="24"/><text x="5637" y="323.3">15</text></g>
<g id="n123" class="node"><ellipse cx="5806.4" cy="317.3" rx="39.5" ry="24"/><text x="5806.4" y="323.3">R454</text></g>
<g id="n124" class="node"><ellipse cx="5916" cy="317.3" rx="46" ry="24"/><text x="5916" y="323.3">R1121</text></g>
<g id="n125" class="node"><ellipse cx="6025.4" cy="317.3" rx="39.5" ry="24"/><text x="6025.4" y="323.3">R738</text></g>
<g id="n126" class="node"><ellipse cx="6128" cy="317.3" rx="39.5" ry="24"/><text x="6128" y="323.3">R136</text></g>
<g id="n127" class="node"><ellipse cx="6228" cy="317.3" rx="36" ry="24"/><text x="6228" y="323.3">30</text></g>
<g id="n128" class="node"><ellipse cx="6324" cy="317.3" rx="36" ry="24"/><text x="6324" y="323.3">21</text></g>
<g id="n129" class="node"><ellipse cx="6420" cy="317.3" rx="36" ry="24"/><text x="6420" y="323.3">21</text></g>
<g id="n130" class="node"><ellipse cx="6516" cy="317.3" rx="36" ry="24"/><text x="6516" y="323.3">22</text></g>
<g id="n131" class="node"><ellipse cx="6621" cy="317.3" rx="46" ry="24"/><text x="6621" y="323.3">R2098</text></g>
<g id="n132" class="node"><ellipse cx="6731" cy="317.3" rx="39.5" ry="24"/><text x="6731" y="323.3">R116</text></g>
<g id="n133" class="node"><ellipse cx="6830.5" cy="317.3" rx="36" ry="24"/><text x="6830.5" y="323.3">21</text></g>
<g id="n134" class="node"><ellipse cx="6926.5" cy="317.3" rx="36" ry="24"/><text x="6926.5" y="323.3">39</text></g>
<g id="n135" class="node"><ellipse cx="7026.5" cy="317.3" rx="39.5" ry="24"/><text x="7026.5" y="323.3">R360</text></g>
<g id="n136" class="node"><ellipse cx="7126" cy="317.3" rx="36" ry="24"/><text x="7126" y="323.3">23</text></g>
<g id="n137" class="node"><ellipse cx="186" cy="413.3" rx="36" ry="24"/><text x="186" y="419.3">R35</text></g>
<g id="n138" class="node"><ellipse cx="282" cy="413.3" rx="36" ry="24"/><text x="282" y="419.3">31</text></g>
<g id="n139" class="node"><ellipse cx="536" cy="413.3" rx="36" ry="24"/><text x="536" y="419.3">R42</text></g>
<g id="n140" class="node"><ellipse cx="635.6" cy="413.3" rx="39.5" ry="24"/><text x="635.6" y="419.3">R559</text></g>
<g id="n141" class="node"><ellipse cx="789" cy="413.3" rx="36" ry="24"/><text x="789" y="419.3">14</text></g>
<g id="n142" class="node"><ellipse cx="884.7" cy="413.3" rx="36" ry="24"/><text x="884.7" y="419.3">11</text></g>
<g id="n143" class="node"><ellipse cx="1242" cy="413.3" rx="36" ry="24"/><text x="1242" y="419.3">18</text></g>
<g id="n144" class="node"><ellipse cx="1338" cy="413.3" rx="36" ry="24"/><text x="1338" y="419.3">35</text></g>
<g id="n145" class="node"><ellipse cx="1434.5" cy="413.3" rx="36" ry="24"/><text x="1434.5" y="419.3">17</text></g>
<g id="n146" class="node"><ellipse cx="1530" cy="413.3" rx="36" ry="24"/><text x="1530" y="419.3">35</text></g>
<g id="n147" class="node"><ellipse cx="1626" cy="413.3" rx="36" ry="24"/><text x="1626" y="419.3">17</text></g>
<g id="n148" class="node"><ellipse cx="1722" cy="413.3" rx="36" ry="24"/><text x="1722" y="419.3">3</text></g>
<g id="n149" class="node"><ellipse cx="1822" cy="413.3" rx="39.5" ry="24"/><text x="1822" y="419.3">R629</text></g>
<g id="n150" class="node"><ellipse cx="1922" cy="413.3" rx="36" ry="24"/><text x="1922" y="419.3">20</text></g>
<g id="n151" class="node"><ellipse cx="2018" cy="413.3" rx="36" ry="24"/><text x="2018" y="419.3">1</text></g>
<g id="n152" class="node"><ellipse cx="2114" cy="413.3" rx="36" ry="24"/><text x="2114" y="419.3">20</text></g>
<g id="n153" class="node"><ellipse cx="2210" cy="413.3" rx="36" ry="24"/><text x="2210" y="419.3">42</text></g>
<g id="n154" class="node"><ellipse cx="2306.5" cy="413.3" rx="36" ry="24"/><text x="2306.5" y="419.3">29</text></g>
<g id="n155" class="node"><ellipse cx="2402" cy="413.3" rx="36" ry="24"/><text x="2402" y="419.3">5</text></g>
<g id="n156" class="node"><ellipse cx="2498" cy="413.3" rx="36" ry="24"/><text x="2498" y="419.3">29</text></g>
<g id="n157" class="node"><ellipse cx="2598.5" cy="413.3" rx="39.5" ry="24"/><text x="2598.5" y="419.3">R582</text></g>
<g id="n158" class="node"><ellipse cx="2698.5" cy="413.3" rx="36" ry="24"/><text x="2698.5" y="419.3">5</text></g>
<g id="n159" class="node"><ellipse cx="2803.7" cy="413.3" rx="46" ry="24"/><text x="2803.7" y="419.3">R1449</text></g>
<g id="n160" class="node"><ellipse cx="2909" cy="413.3" rx="36" ry="24"/><text x="2909" y="419.3">5</text></g>
<g id="n161" class="node"><ellipse cx="3014" cy="413.3" rx="46" ry="24"/><text x="3014" y="419.3">R1742</text></g>
<g id="n162" class="node"><ellipse cx="3119.5" cy="413.3" rx="36" ry="24"/><text x="3119.5" y="419.3">2</text></g>
<g id="n163" class="node"><ellipse cx="3219.8" cy="413.3" rx="39.5" ry="24"/><text x="3219.8" y="419.3">R431</text></g>
<g id="n164" class="node"><ellipse cx="3319.5" cy="413.3" rx="36" ry="24"/><text x="3319.5" y="419.3">0</text></g>
<g id="n165" class="node"><ellipse cx="3415.5" cy="413.3" rx="36" ry="24"/><text x="3415.5" y="419.3">2</text></g>
<g id="n166" class="node"><ellipse cx="3511.6" cy="413.3" rx="36" ry="24"/><text x="3511.6" y="419.3">0</text></g>
<g id="n167" class="node"><ellipse cx="3622" cy="413.3" rx="36" ry="24"/><text x="3622" y="419.3">2</text></g>
<g id="n168" class="node"><ellipse cx="3718" cy="413.3" rx="36" ry="24"/><text x="3718" y="419.3">0</text></g>
<g id="n169" class="node"><ellipse cx="3980.7" cy="413.3" rx="36" ry="24"/><text x="3980.7" y="419.3">33</text></g>
<g id="n170" class="node"><ellipse cx="4076.8" cy="413.3" rx="36" ry="24"/><text x="4076.8" y="419.3">24</text></g>
<g id="n171" class="node"><ellipse cx="4286" cy="413.3" rx="36" ry="24"/><text x="4286" y="419.3">19</text></g>
<g id="n172" class="node"><ellipse cx="4382" cy="413.3" rx="36" ry="24"/><text x="4382" y="419.3">27</text></g>
<g id="n173" class="node"><ellipse cx="4478" cy="413.3" rx="36" ry="24"/><text x="4478" y="419.3">25</text></g>
<g id="n174" class="node"><ellipse cx="4584" cy="413.3" rx="46" ry="24"/><text x="4584" y="419.3">R1371</text></g>
<g id="n175" class="node"><ellipse cx="4693.5" cy="413.3" rx="39.5" ry="24"/><text x="4693.5" y="419.3">R340</text></g>
<g id="n176" class="node"><ellipse cx="4793" cy="413.3" rx="36" ry="24"/><text x="4793" y="419.3">26</text></g>
<g id="n177" class="node"><ellipse cx="4888.5" cy="413.3" rx="36" ry="24"/><text x="4888.5" y="419.3">38</text></g>
<g id="n178" class="node"><ellipse cx="4985" cy="413.3" rx="36" ry="24"/><text x="4985" y="419.3">26</text></g>
<g id="n179" class="node"><ellipse cx="5080.6" cy="413.3" rx="36" ry="24"/><text x="5080.6" y="419.3">38</text></g>
<g id="n180" class="node"><ellipse cx="5177" cy="413.3" rx="36" ry="24"/><text x="5177" y="419.3">26</text></g>
<g id="n181" class="node"><ellipse cx="5282.5" cy="413.3" rx="46" ry="24"/><text x="5282.5" y="419.3">R2774</text></g>
<g id="n182" class="node"><ellipse cx="5398.5" cy="413.3" rx="46" ry="24"/><text x="5398.5" y="419.3">R2774</text></g>
<g id="n183" class="node"><ellipse cx="5514.5" cy="413.3" rx="46" ry="24"/><text x="5514.5" y="419.3">R2774</text></g>
<g id="n184" class="node"><ellipse cx="5620.5" cy="413.3" rx="36" ry="24"/><text x="5620.5" y="419.3">15</text></g>
<g id="n185" class="node"><ellipse cx="5725" cy="413.3" rx="46" ry="24"/><text x="5725" y="419.3">R1540</text></g>
<g id="n186" class="node"><ellipse cx="5830.5" cy="413.3" rx="36" ry="24"/><text x="5830.5" y="419.3">40</text></g>
<g id="n187" class="node"><ellipse cx="5926" cy="413.3" rx="36" ry="24"/><text x="5926" y="419.3">41</text></g>
<g id="n188" class="node"><ellipse cx="6022" cy="413.3" rx="36" ry="24"/><text x="6022" y="419.3">40</text></g>
<g id="n189" class="node"><ellipse cx="6122" cy="413.3" rx="39.5" ry="24"/><text x="6122" y="419.3">R116</text></g>
<g id="n190" class="node"><ellipse cx="6221.7" cy="413.3" rx="36" ry="24"/><text x="6221.7" y="419.3">21</text></g>
<g id="n191" class="node"><ellipse cx="6318" cy="413.3" rx="36" ry="24"/><text x="6318" y="419.3">30</text></g>
<g id="n192" class="node"><ellipse cx="6414" cy="413.3" rx="36" ry="24"/><text x="6414" y="419.3">21</text></g>
<g id="n193" class="node"><ellipse cx="6522" cy="413.3" rx="39.5" ry="24"/><text x="6522" y="419.3">R136</text></g>
<g id="n194" class="node"><ellipse cx="6621.5" cy="413.3" rx="36" ry="24"/><text x="6621.5" y="419.3">30</text></g>
<g id="n195" class="node"><ellipse cx="6725" cy="413.3" rx="36" ry="24"/><text x="6725" y="419.3">21</text></g>
<g id="n196" class="node"><ellipse cx="6821" cy="413.3" rx="36" ry="24"/><text x="6821" y="419.3">30</text></g>
<g id="n197" class="node"><ellipse cx="6925.2" cy="413.3" rx="39.5" ry="24"/><text x="6925.2" y="419.3">R557</text></g>
<g id="n198" class="node"><ellipse cx="7030.4" cy="413.3" rx="39.5" ry="24"/><text x="7030.4" y="419.3">R139</text></g>
<g id="n199" class="node"><ellipse cx="137" cy="509.3" rx="39.5" ry="24"/><text x="137" y="515.3">R947</text></g>
<g id="n200" class="node"><ellipse cx="237" cy="509.3" rx="36" ry="24"/><text x="237" y="515.3">43</text></g>
<g id="n201" class="node"><ellipse cx="441" cy="509.3" rx="36" ry="24"/><text x="441" y="515.3">31</text></g>
<g id="n202" class="node"><ellipse cx="537" cy="509.3" rx="36" ry="24"/><text x="537" y="515.3">14</text></g>
<g id="n203" class="node"><ellipse cx="635" cy="509.3" rx="36" ry="24"/><text x="635" y="515.3">31</text></g>
<g id="n204" class="node"><ellipse cx="730.5" cy="509.3" rx="36" ry="24"/><text x="730.5" y="515.3">32</text></g>
<g id="n205" class="node"><ellipse cx="1774" cy="509.3" rx="36" ry="24"/><text x="1774" y="515.3">34</text></g>
<g id="n206" class="node"><ellipse cx="1870" cy="509.3" rx="36" ry="24"/><text x="1870" y="515.3">1</text></g>
<g id="n207" class="node"><ellipse cx="2504.8" cy="509.3" rx="36" ry="24"/><text x="2504.8" y="515.3">5</text></g>
<g id="n208" class="node"><ellipse cx="2601" cy="509.3" rx="36" ry="24"/><text x="2601" y="515.3">2</text></g>
<g id="n209" class="node"><ellipse cx="2712.4" cy="509.3" rx="46" ry="24"/><text x="2712.4" y="515.3">R1741</text></g>
<g id="n210" class="node"><ellipse cx="2818" cy="509.3" rx="36" ry="24"/><text x="2818" y="515.3">2</text></g>
<g id="n211" class="node"><ellipse cx="2925" cy="509.3" rx="36" ry="24"/><text x="2925" y="515.3">2</text></g>
<g id="n212" class="node"><ellipse cx="3019" cy="509.3" rx="36" ry="24"/><text x="3019" y="515.3">5</text></g>
<g id="n213" class="node"><ellipse cx="3172" cy="509.3" rx="36" ry="24"/><text x="3172" y="515.3">0</text></g>
<g id="n214" class="node"><ellipse cx="3267" cy="509.3" rx="36" ry="24"/><text x="3267" y="515.3">2</text></g>
<g id="n215" class="node"><ellipse cx="4488" cy="509.3" rx="39.5" ry="24"/><text x="4488" y="515.3">R822</text></g>
<g id="n216" class="node"><ellipse cx="4587.4" cy="509.3" rx="36" ry="24"/><text x="4587.4" y="515.3">38</text></g>
<g id="n217" class="node"><ellipse cx="4690" cy="509.3" rx="36" ry="24"/><text x="4690" y="515.3">26</text></g>
<g id="n218" class="node"><ellipse cx="4786" cy="509.3" rx="36" ry="24"/><text x="4786" y="515.3">38</text></g>
<g id="n219" class="node"><ellipse cx="5139.6" cy="509.3" rx="36" ry="24"/><text x="5139.6" y="515.3">9</text></g>
<g id="n220" class="node"><ellipse cx="5235.6" cy="509.3" rx="36" ry="24"/><text x="5235.6" y="515.3">36</text></g>
<g id="n221" class="node"><ellipse cx="5331" cy="509.3" rx="36" ry="24"/><text x="5331" y="515.3">9</text></g>
<g id="n222" class="node"><ellipse cx="5427.4" cy="509.3" rx="36" ry="24"/><text x="5427.4" y="515.3">36</text></g>
<g id="n223" class="node"><ellipse cx="5523" cy="509.3" rx="36" ry="24"/><text x="5523" y="515.3">9</text></g>
<g id="n224" class="node"><ellipse cx="5619.7" cy="509.3" rx="36" ry="24"/><text x="5619.7" y="515.3">36</text></g>
<g id="n225" class="node"><ellipse cx="5719.8" cy="509.3" rx="36" ry="24"/><text x="5719.8" y="515.3">37</text></g>
<g id="n226" class="node"><ellipse cx="5815.8" cy="509.3" rx="36" ry="24"/><text x="5815.8" y="515.3">41</text></g>
<g id="n227" class="node"><ellipse cx="6073.6" cy="509.3" rx="36" ry="24"/><text x="6073.6" y="515.3">21</text></g>
<g id="n228" class="node"><ellipse cx="6170.3" cy="509.3" rx="36" ry="24"/><text x="6170.3" y="515.3">30</text></g>
<g id="n229" class="node"><ellipse cx="6474.3" cy="509.3" rx="36" ry="24"/><text x="6474.3" y="515.3">30</text></g>
<g id="n230" class="node"><ellipse cx="6570" cy="509.3" rx="36" ry="24"/><text x="6570" y="515.3">21</text></g>
<g id="n231" class="node"><ellipse cx="6809" cy="509.3" rx="46" ry="24"/><text x="6809" y="515.3">R2072</text></g>
<g id="n232" class="node"><ellipse cx="6925.2" cy="509.3" rx="46" ry="24"/><text x="6925.2" y="515.3">R2072</text></g>
<g id="n233" class="node"><ellipse cx="7030.4" cy="509.3" rx="36" ry="24"/><text x="7030.4" y="515.3">23</text></g>
<g id="n234" class="node"><ellipse cx="7126" cy="509.3" rx="36" ry="24"/><text x="7126" y="515.3">39</text></g>
<g id="n235" class="node"><ellipse cx="89.3" cy="605.3" rx="36" ry="24"/><text x="89.3" y="611.3">R70</text></g>
<g id="n236" class="node"><ellipse cx="185.3" cy="605.3" rx="36" ry="24"/><text x="185.3" y="611.3">4</text></g>
<g id="n237" class="node"><ellipse cx="2665" cy="605.3" rx="36" ry="24"/><text x="2665" y="611.3">2</text></g>
<g id="n238" class="node"><ellipse cx="2760.6" cy="605.3" rx="36" ry="24"/><text x="2760.6" y="611.3">5</text></g>
<g id="n239" class="node"><ellipse cx="4440" cy="605.3" rx="36" ry="24"/><text x="4440" y="611.3">6</text></g>
<g id="n240" class="node"><ellipse cx="4536" cy="605.3" rx="36" ry="24"/><text x="4536" y="611.3">25</text></g>
<g id="n241" class="node"><ellipse cx="6718.8" cy="605.3" rx="36" ry="24"/><text x="6718.8" y="611.3">30</text></g>
<g id="n242" class="node"><ellipse cx="6814.5" cy="605.3" rx="36" ry="24"/><text x="6814.5" y="611.3">39</text></g>
<g id="n243" class="node"><ellipse cx="6919.3" cy="605.3" rx="36" ry="24"/><text x="6919.3" y="611.3">30</text></g>
<g id="n244" class="node"><ellipse cx="7015.4" cy="605.3" rx="36" ry="24"/><text x="7015.4" y="611.3">39</text></g>
<g id="n245" class="node"><ellipse cx="41.3" cy="701.3" rx="36" ry="24"/><text x="41.3" y="707.3">4</text></g>
<g id="n246" class="node"><ellipse cx="137.3" cy="701.3" rx="36" ry="24"/><text x="137.3" y="707.3">43</text></g>
</g>
</svg>
